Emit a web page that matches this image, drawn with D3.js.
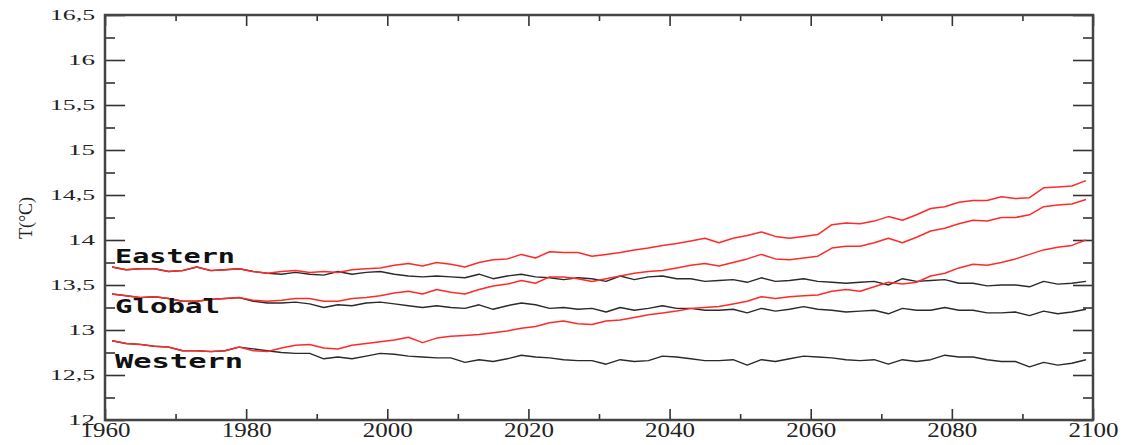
<!DOCTYPE html>
<html><head><meta charset="utf-8">
<script src="https://cdn.jsdelivr.net/npm/d3@7"></script>
<style>html,body{margin:0;padding:0;background:#fff;}svg{display:block;}</style>
</head><body>
<svg id="chart" width="1127" height="445"></svg>
<script>
const years = d3.range(1961, 2100, 2);
const easternScenario = [13.70,13.67,13.68,13.68,13.65,13.66,13.70,13.66,13.67,13.68,13.65,13.63,13.65,13.66,13.64,13.65,13.64,13.67,13.68,13.69,13.72,13.74,13.71,13.75,13.73,13.70,13.75,13.78,13.79,13.84,13.80,13.87,13.86,13.86,13.82,13.84,13.86,13.89,13.91,13.94,13.96,13.99,14.02,13.97,14.02,14.05,14.09,14.04,14.02,14.04,14.06,14.17,14.19,14.18,14.21,14.26,14.22,14.28,14.35,14.37,14.42,14.44,14.44,14.48,14.46,14.47,14.58,14.59,14.60,14.66];
const easternControl = [13.70,13.67,13.68,13.68,13.65,13.66,13.70,13.66,13.67,13.68,13.65,13.63,13.62,13.64,13.62,13.61,13.65,13.62,13.64,13.65,13.62,13.60,13.59,13.60,13.59,13.58,13.62,13.57,13.60,13.62,13.59,13.58,13.56,13.58,13.57,13.54,13.60,13.56,13.59,13.60,13.57,13.57,13.54,13.55,13.56,13.53,13.58,13.54,13.55,13.57,13.54,13.53,13.52,13.53,13.54,13.50,13.57,13.54,13.55,13.56,13.52,13.52,13.49,13.50,13.50,13.48,13.54,13.51,13.52,13.54];
const globalScenario = [13.40,13.38,13.36,13.37,13.35,13.32,13.32,13.34,13.35,13.36,13.33,13.32,13.33,13.35,13.35,13.32,13.32,13.35,13.36,13.38,13.41,13.43,13.40,13.45,13.42,13.40,13.45,13.49,13.51,13.55,13.52,13.59,13.59,13.57,13.54,13.57,13.60,13.63,13.65,13.66,13.69,13.72,13.74,13.71,13.75,13.79,13.84,13.79,13.78,13.80,13.82,13.91,13.93,13.93,13.97,14.02,13.97,14.03,14.10,14.13,14.18,14.22,14.21,14.25,14.25,14.28,14.37,14.39,14.40,14.45];
const globalControl = [13.40,13.38,13.36,13.37,13.35,13.32,13.32,13.34,13.35,13.36,13.32,13.30,13.30,13.31,13.29,13.25,13.28,13.27,13.30,13.31,13.29,13.27,13.25,13.27,13.25,13.24,13.28,13.23,13.27,13.30,13.28,13.24,13.25,13.23,13.24,13.20,13.25,13.22,13.24,13.27,13.24,13.24,13.22,13.22,13.23,13.19,13.24,13.21,13.23,13.26,13.23,13.22,13.20,13.21,13.22,13.18,13.24,13.22,13.22,13.25,13.22,13.22,13.19,13.19,13.20,13.16,13.21,13.18,13.20,13.23];
const westernScenario = [12.88,12.85,12.84,12.82,12.81,12.77,12.77,12.76,12.77,12.81,12.77,12.76,12.80,12.83,12.84,12.80,12.79,12.83,12.85,12.87,12.89,12.92,12.86,12.91,12.93,12.94,12.95,12.97,12.99,13.02,13.04,13.08,13.10,13.07,13.06,13.10,13.11,13.14,13.17,13.19,13.21,13.24,13.25,13.26,13.29,13.32,13.37,13.35,13.37,13.38,13.39,13.43,13.45,13.43,13.48,13.53,13.51,13.53,13.60,13.63,13.69,13.73,13.72,13.75,13.79,13.84,13.89,13.92,13.94,14.00];
const westernControl = [12.88,12.85,12.84,12.82,12.81,12.77,12.77,12.76,12.77,12.81,12.79,12.77,12.75,12.74,12.74,12.68,12.70,12.68,12.71,12.74,12.73,12.71,12.70,12.69,12.69,12.64,12.67,12.65,12.68,12.72,12.70,12.69,12.67,12.66,12.66,12.62,12.67,12.65,12.66,12.71,12.70,12.68,12.66,12.66,12.67,12.61,12.67,12.65,12.68,12.71,12.70,12.69,12.67,12.66,12.67,12.62,12.67,12.65,12.67,12.72,12.70,12.70,12.67,12.65,12.65,12.59,12.64,12.61,12.63,12.67];
const yTicks = [12,12.5,13,13.5,14,14.5,15,15.5,16,16.5];
const xTicks = [1960,1980,2000,2020,2040,2060,2080,2100];
const regionLabels = ["Eastern","Global","Western"];
const regionLabelValues = [13.744,13.189,12.578];
const yTitle = "T(°C)";

const svg = d3.select("#chart");
const L=105, R=1093, T=15, B=420;
const x = d3.scaleLinear([1960,2100],[L,R]);
const y = d3.scaleLinear([12,16.5],[B,T]);

const minorY = d3.range(12.25,16.5,0.5);
const minorX = d3.range(1970,2100,20);
const fmt = d => String(d).replace(".", ",");

function tickAxis(axis, tx, ty){
  const g = svg.append("g").attr("transform",`translate(${tx},${ty})`).call(axis);
  g.select(".domain").remove();
  g.selectAll("line").attr("stroke","#333").attr("stroke-width",1.6);
  g.selectAll("text").remove();
  return g;
}
// inward ticks on all four sides
tickAxis(d3.axisRight(y).tickValues(yTicks).tickSize(20), L, 0);
tickAxis(d3.axisRight(y).tickValues(minorY).tickSize(10), L, 0);
tickAxis(d3.axisLeft(y).tickValues(yTicks).tickSize(20), R, 0);
tickAxis(d3.axisLeft(y).tickValues(minorY).tickSize(10), R, 0);
tickAxis(d3.axisBottom(x).tickValues(xTicks).tickSize(11), 0, T);
tickAxis(d3.axisBottom(x).tickValues(minorX).tickSize(6), 0, T);
tickAxis(d3.axisTop(x).tickValues(xTicks).tickSize(11), 0, B);
tickAxis(d3.axisTop(x).tickValues(minorX).tickSize(6), 0, B);

// frame
svg.append("rect").attr("x",L).attr("y",T).attr("width",R-L).attr("height",B-T)
  .attr("fill","none").attr("stroke","#444").attr("stroke-width",2.5);

// tick labels
const yl = svg.append("g").attr("transform",`translate(${L},0)`)
  .call(d3.axisLeft(y).tickValues(yTicks).tickSize(0).tickPadding(10).tickFormat(fmt));
yl.select(".domain").remove();
yl.selectAll("text").attr("font-family","Liberation Serif, serif").attr("font-size",15).attr("fill","#222")
  .attr("textLength", d => fmt(d).length===2 ? 27 : 45).attr("lengthAdjust","spacingAndGlyphs");

const xl = svg.append("g").attr("transform",`translate(0,${B})`)
  .call(d3.axisBottom(x).tickValues(xTicks).tickSize(0).tickPadding(3).tickFormat(d3.format("d")));
xl.select(".domain").remove();
xl.selectAll("text").attr("font-family","Liberation Serif, serif").attr("font-size",20).attr("fill","#222")
  .attr("textLength",50).attr("lengthAdjust","spacingAndGlyphs");

// y title
svg.append("text").attr("transform",`translate(32,218) rotate(-90)`).attr("text-anchor","middle")
  .attr("font-family","Liberation Serif, serif").attr("font-size",18).attr("fill","#222").text(yTitle);

// lines
const line = d3.line().x((d,i)=>x(years[i])).y(d=>y(d));
const controls = [easternControl, globalControl, westernControl];
const scenarios = [easternScenario, globalScenario, westernScenario];
controls.forEach(s => svg.append("path").datum(s).attr("d",line).attr("fill","none")
  .attr("stroke","#2a2a2a").attr("stroke-width",1.4).attr("stroke-linejoin","round"));
scenarios.forEach(s => svg.append("path").datum(s).attr("d",line).attr("fill","none")
  .attr("stroke","#ff2a2a").attr("stroke-width",1.5).attr("stroke-linejoin","round"));

// region labels
const labelLens = [120,105,128];
regionLabels.forEach((t,i) => svg.append("text").attr("x",115).attr("y",y(regionLabelValues[i]))
  .attr("font-family","DejaVu Sans Mono, monospace").attr("font-weight","bold").attr("font-size",19)
  .attr("fill","#111").attr("textLength",labelLens[i]).attr("lengthAdjust","spacingAndGlyphs").text(t));
</script>
</body></html>
